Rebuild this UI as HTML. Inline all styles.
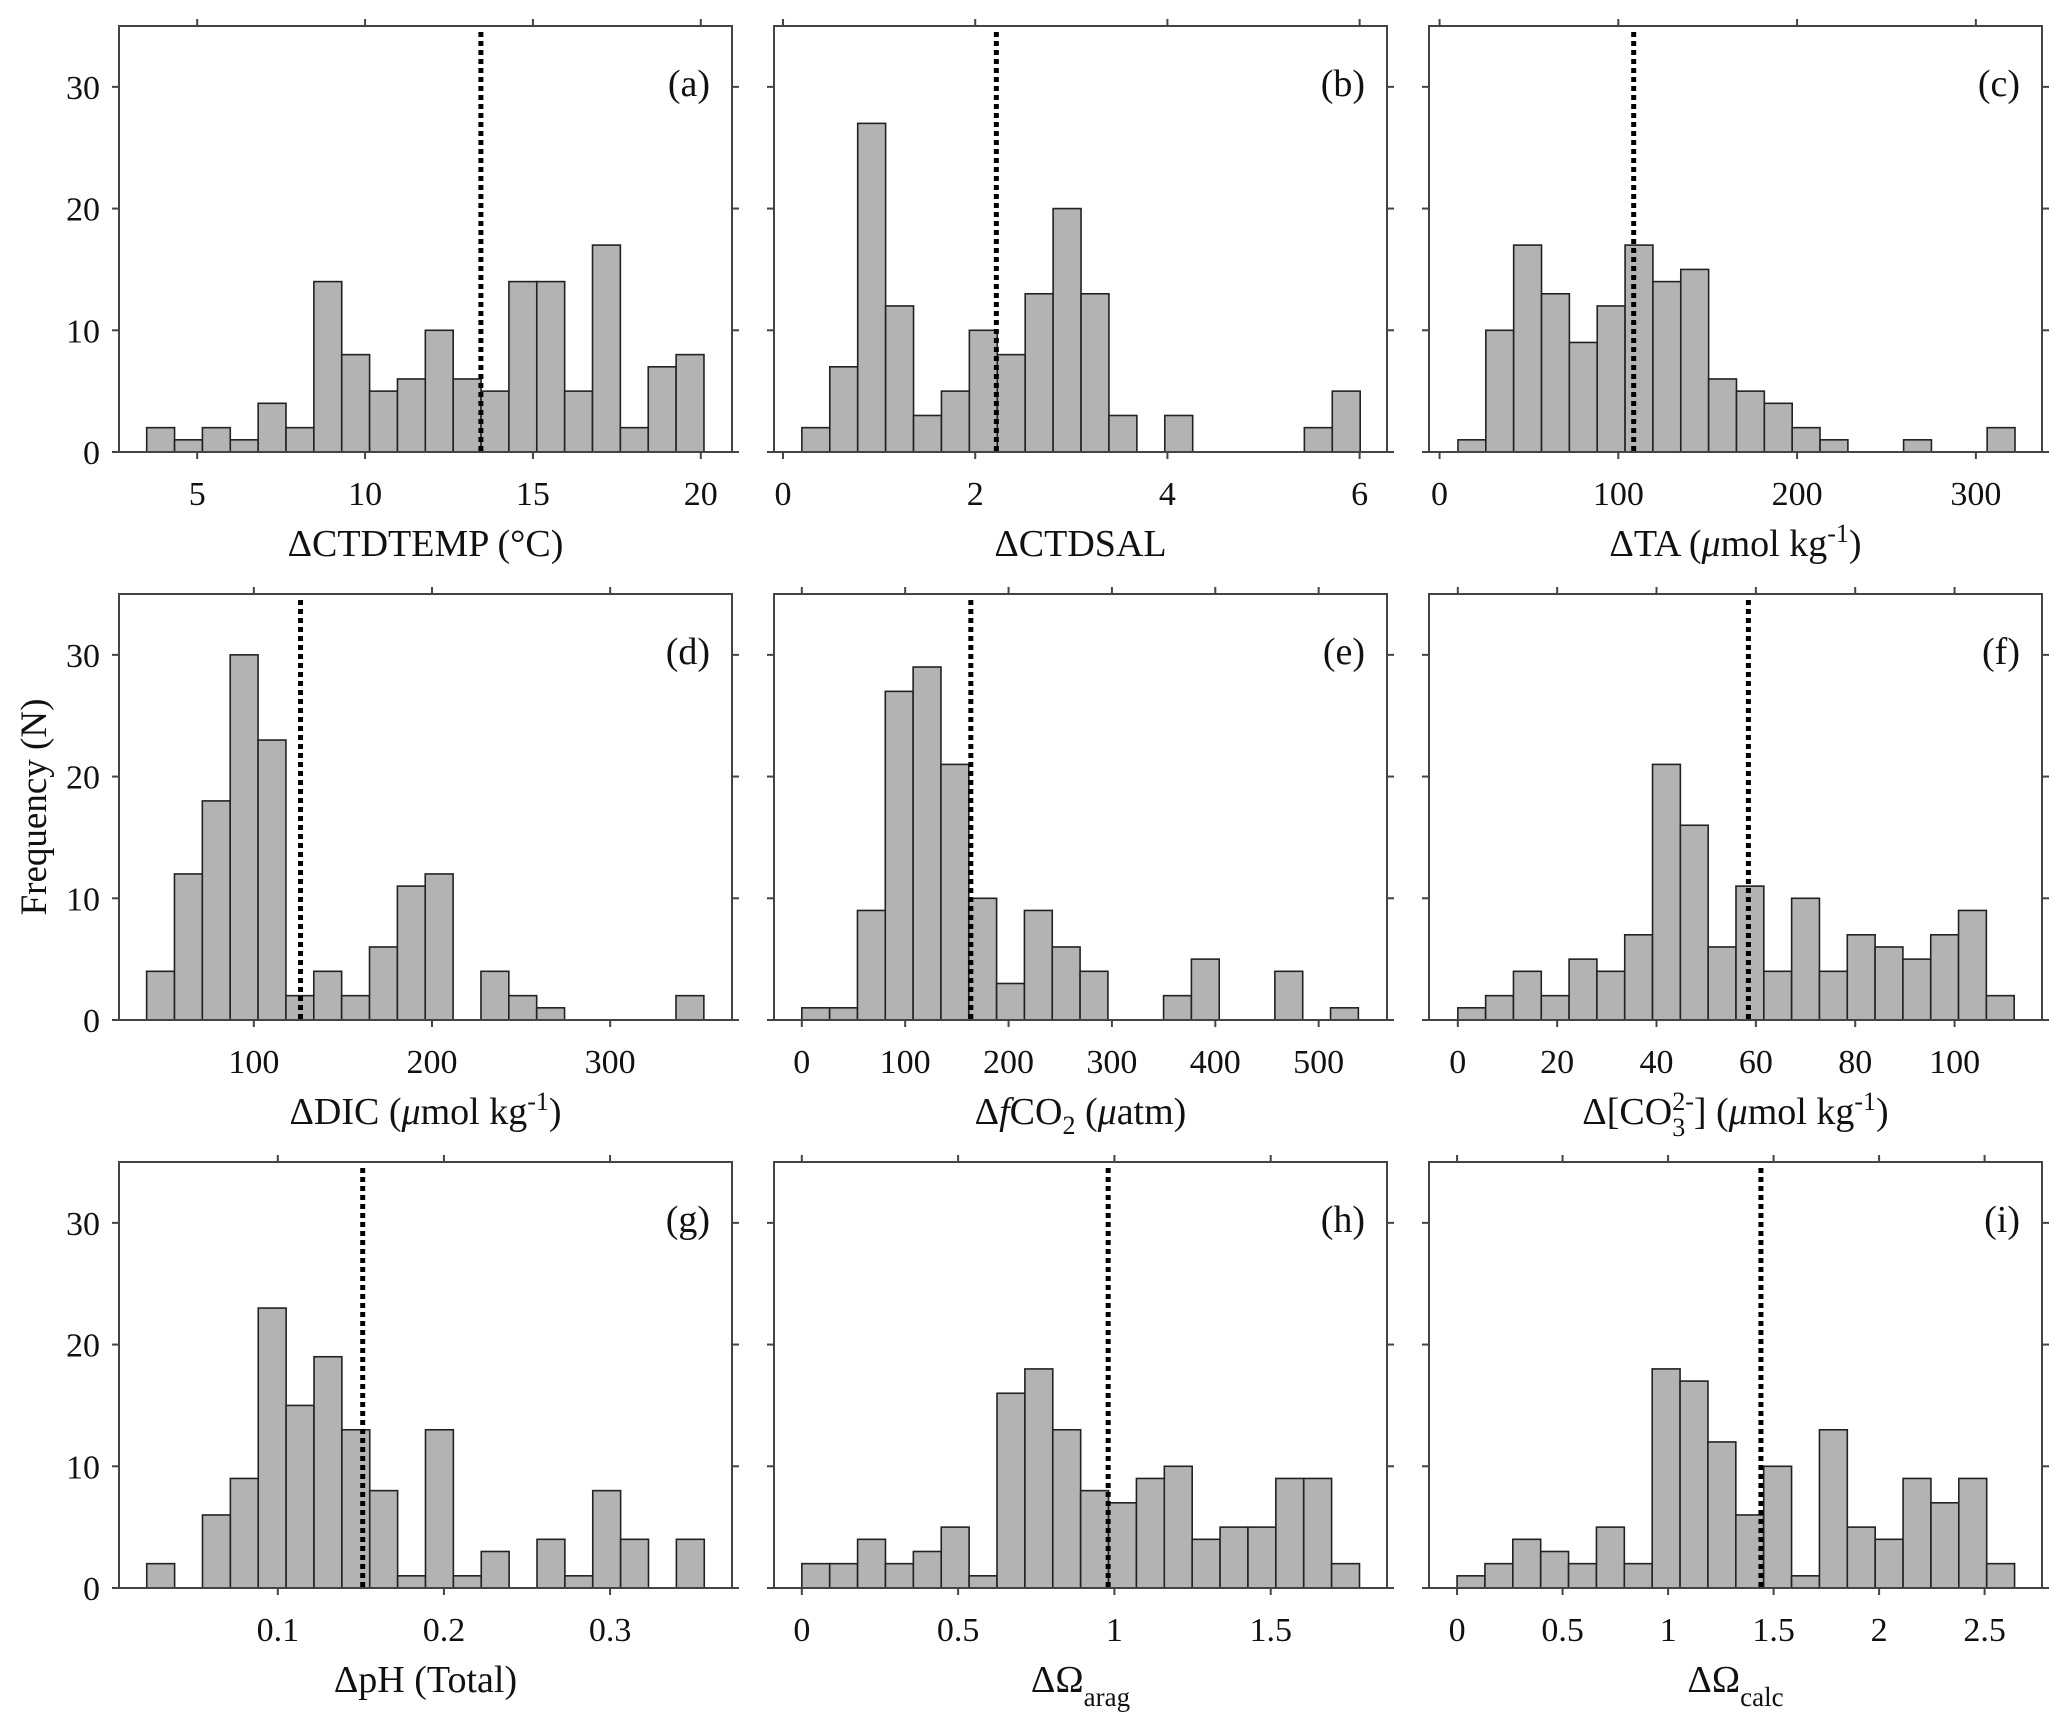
<!DOCTYPE html>
<html><head><meta charset="utf-8"><style>
html,body{margin:0;padding:0;background:#fff;}
svg{display:block;font-family:"Liberation Serif",serif;}
</style></head><body>
<svg id="fig" width="2067" height="1731" viewBox="0 0 2067 1731" xmlns="http://www.w3.org/2000/svg"></svg>
<script>
// ---- data ----
var countsA=[2,1,2,1,4,2,14,8,5,6,10,6,5,14,14,5,17,2,7,8];
var countsB=[2,7,27,12,3,5,10,8,13,20,13,3,0,3,0,0,0,0,2,5];
var countsC=[1,10,17,13,9,12,17,14,15,6,5,4,2,1,0,0,1,0,0,2];
var countsD=[4,12,18,30,23,2,4,2,6,11,12,0,4,2,1,0,0,0,0,2];
var countsE=[1,1,9,27,29,21,10,3,9,6,4,0,0,2,5,0,0,4,0,1];
var countsF=[1,2,4,2,5,4,7,21,16,6,11,4,10,4,7,6,5,7,9,2];
var countsG=[2,0,6,9,23,15,19,13,8,1,13,1,3,0,4,1,8,4,0,4];
var countsH=[2,2,4,2,3,5,1,16,18,13,8,7,9,10,4,5,5,9,9,2];
var countsI=[1,2,4,3,2,5,2,18,17,12,6,10,1,13,5,4,9,7,9,2];
var binStarts=[3.495,0.196,10.3,39.8,0,0,0.0211,0,0];
var binWidths=[0.83,0.2905,15.58,15.64,26.92,5.6,0.01678,0.0892,0.1321];
var meanValues=[13.45,2.22,108.6,126.2,163.5,58.5,0.1511,0.98,1.44];
var xMins=[2.67,-0.094,-5.9,24.3,-26.9,-5.8,0.0044,-0.089,-0.133];
var xMaxs=[20.93,6.285,337,368.4,566.1,117.6,0.3734,1.872,2.772];
var xTicksA=[5,10,15,20];
var xTicksB=[0,2,4,6];
var xTicksC=[0,100,200,300];
var xTicksD=[100,200,300];
var xTicksE=[0,100,200,300,400,500];
var xTicksF=[0,20,40,60,80,100];
var xTicksG=[0.1,0.2,0.3];
var xTicksH=[0,0.5,1,1.5];
var xTicksI=[0,0.5,1,1.5,2,2.5];
var yTicks=[0,10,20,30];
var panelLetters=["(a)","(b)","(c)","(d)","(e)","(f)","(g)","(h)","(i)"];

var allCounts=[countsA,countsB,countsC,countsD,countsE,countsF,countsG,countsH,countsI];
var allTicks=[xTicksA,xTicksB,xTicksC,xTicksD,xTicksE,xTicksF,xTicksG,xTicksH,xTicksI];
var titles=[
 '&#916;CTDTEMP (&#176;C)',
 '&#916;CTDSAL',
 '&#916;TA (<tspan font-style="italic">&#956;</tspan>mol kg<tspan dy="-14" font-size="26">-1</tspan><tspan dy="14">)</tspan>',
 '&#916;DIC (<tspan font-style="italic">&#956;</tspan>mol kg<tspan dy="-14" font-size="26">-1</tspan><tspan dy="14">)</tspan>',
 '&#916;<tspan font-style="italic">f</tspan>CO<tspan dy="10" font-size="26">2</tspan><tspan dy="-10"> (</tspan><tspan font-style="italic">&#956;</tspan>atm)',
 '&#916;[CO<tspan dy="12" font-size="26">3</tspan><tspan dy="-26" dx="-13" font-size="26">2-</tspan><tspan dy="14">] (</tspan><tspan font-style="italic">&#956;</tspan>mol kg<tspan dy="-14" font-size="26">-1</tspan><tspan dy="14">)</tspan>',
 '&#916;pH (Total)',
 '&#916;&#937;<tspan dy="14" font-size="27">arag</tspan>',
 '&#916;&#937;<tspan dy="14" font-size="27">calc</tspan>'
];
var colLeft=[119,774,1429], colW=613, rowTop=[26,594,1162], rowH=426, yMax=35;
var NS="http://www.w3.org/2000/svg";
var svg=document.getElementById('fig');
function mk(tag,attrs,parent){var e=document.createElementNS(NS,tag);for(var k in attrs)e.setAttribute(k,attrs[k]);(parent||svg).appendChild(e);return e;}
function fmt(v){return String(Math.round(v*1000)/1000);}

for(var p=0;p<9;p++){
  var L=colLeft[p%3], T=rowTop[Math.floor(p/3)], B=T+rowH, R=L+colW;
  var x0=xMins[p], x1=xMaxs[p];
  var xs=(function(L,x0,x1){return function(v){return L+(v-x0)/(x1-x0)*colW;};})(L,x0,x1);
  var ys=(function(B){return function(v){return B-v/yMax*rowH;};})(B);
  var g=mk('g',{});
  
  
  var cs=allCounts[p];
  for(var i=0;i<cs.length;i++){
    if(cs[i]<=0)continue;
    var a=xs(binStarts[p]+i*binWidths[p]), b=xs(binStarts[p]+(i+1)*binWidths[p]);
    var r=mk('rect',{x:a,y:ys(cs[i]),width:b-a,height:ys(0)-ys(cs[i]),fill:'#b3b3b3',stroke:'#222','stroke-width':1.6},g);
    
    
  }
  var m=mk('line',{x1:xs(meanValues[p]),x2:xs(meanValues[p]),y1:T+6,y2:B,stroke:'#000','stroke-width':5,'stroke-dasharray':'5 4'},g);
  
  
  var fr=mk('rect',{x:L,y:T,width:colW,height:rowH,fill:'none',stroke:'#444','stroke-width':2},g);
  
  
  var tk=allTicks[p];
  for(var j=0;j<tk.length;j++){
    var tx=xs(tk[j]);
    mk('line',{x1:tx,x2:tx,y1:B,y2:B+7,stroke:'#444','stroke-width':2},g);
    mk('line',{x1:tx,x2:tx,y1:T,y2:T-7,stroke:'#444','stroke-width':2},g);
    var t=mk('text',{x:tx,y:B+53,'font-size':34,'text-anchor':'middle',fill:'#111'},g);
    t.textContent=fmt(tk[j]);
    
    
  }
  for(var k=0;k<yTicks.length;k++){
    var ty=ys(yTicks[k]);
    mk('line',{x1:L-7,x2:L,y1:ty,y2:ty,stroke:'#444','stroke-width':2},g);
    mk('line',{x1:R,x2:R+7,y1:ty,y2:ty,stroke:'#444','stroke-width':2},g);
    if(p%3===0){
      var yl=mk('text',{x:L-19,y:ty+12,'font-size':34,'text-anchor':'end',fill:'#111'},g);
      yl.textContent=String(yTicks[k]);
      
      
    }
  }
  var pl=mk('text',{x:R-22,y:T+70,'font-size':38,'text-anchor':'end',fill:'#111'},g);
  pl.textContent=panelLetters[p];
  
  
  var xt=mk('text',{x:L+colW/2,y:B+104,'font-size':38,'text-anchor':'middle',fill:'#111'},g);
  xt.innerHTML=titles[p];
  
  
}
var yt=mk('text',{x:0,y:0,'font-size':37,'text-anchor':'middle',fill:'#111',transform:'translate(46,807) rotate(-90)'});
yt.textContent='Frequency (N)';


</script>
</body></html>
